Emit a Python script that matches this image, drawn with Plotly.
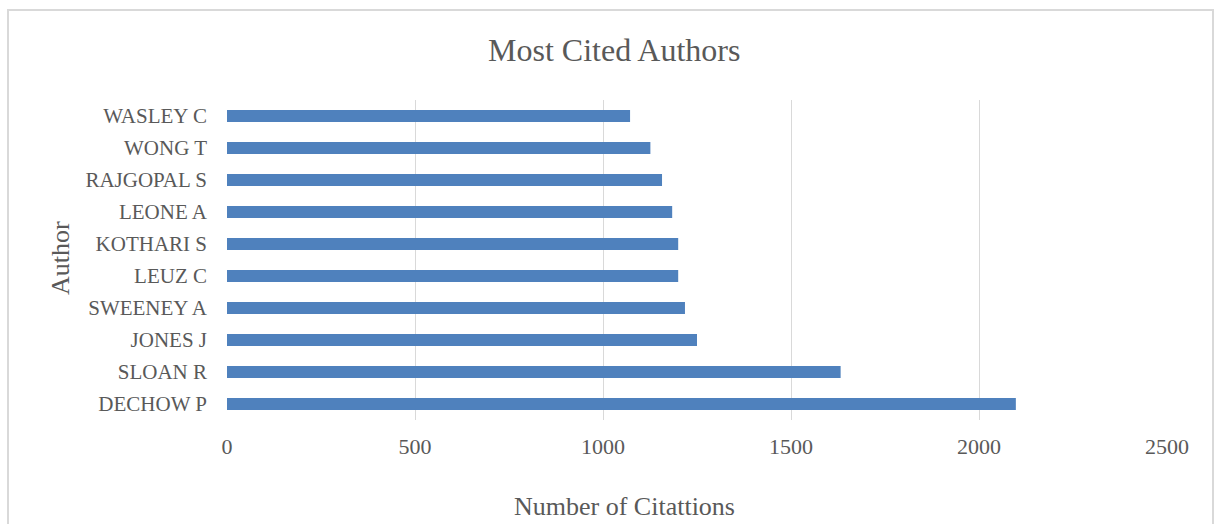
import plotly.graph_objects as go

authors = ["DECHOW P", "SLOAN R", "JONES J", "SWEENEY A", "LEUZ C",
           "KOTHARI S", "LEONE A", "RAJGOPAL S", "WONG T", "WASLEY C"]
citations = [2098, 1632, 1250, 1218, 1200, 1200, 1184, 1157, 1126, 1072]
x_ticks = [0, 500, 1000, 1500, 2000, 2500]

FONT = "Liberation Serif, Times New Roman, serif"
GRAY = "#595959"

fig = go.Figure(go.Bar(
    x=citations, y=authors, orientation="h",
    marker=dict(color="#4f81bd", line=dict(width=0)),
    width=0.38,
))

W, H = 1214, 524
L, R, T, B = 227, W - 1167, 100, H - 420
pw, ph = W - L - R, H - T - B

fig.update_layout(
    width=W, height=H,
    margin=dict(l=L, r=R, t=T, b=B),
    paper_bgcolor="white", plot_bgcolor="white",
    showlegend=False,
    font=dict(family=FONT, color=GRAY),
    xaxis=dict(range=[0, 2500], tickvals=x_ticks, showgrid=True,
               gridcolor="#d9d9d9", gridwidth=1, zeroline=False,
               showline=False, tickfont=dict(size=22, color=GRAY),
               ticklabelstandoff=11, fixedrange=True),
    yaxis=dict(categoryorder="array", categoryarray=authors,
               showgrid=False, zeroline=False, showline=False,
               tickfont=dict(size=21, color=GRAY),
               ticklabelstandoff=19, range=[-0.5, 9.5]),
)

# outer frame
fig.add_shape(type="rect", xref="paper", yref="paper",
              x0=(8 - L) / pw, x1=(1213 - L) / pw,
              y0=(H - B - 540) / ph, y1=(H - B - 10) / ph,
              line=dict(color="#d9d9d9", width=2), fillcolor="rgba(0,0,0,0)",
              layer="below")

fig.add_annotation(text="Most Cited Authors", xref="paper", yref="paper",
                   x=(614 - L) / pw, y=(H - B - 50) / ph, showarrow=False,
                   font=dict(size=32, color=GRAY, family=FONT),
                   xanchor="center", yanchor="middle")
fig.add_annotation(text="Number of Citattions", xref="paper", yref="paper",
                   x=(624 - L) / pw, y=(H - B - 506) / ph, showarrow=False,
                   font=dict(size=26, color=GRAY, family=FONT),
                   xanchor="center", yanchor="middle")
fig.add_annotation(text="Author", xref="paper", yref="paper",
                   x=(60 - L) / pw, y=(H - B - 258) / ph, showarrow=False,
                   textangle=-90,
                   font=dict(size=26, color=GRAY, family=FONT),
                   xanchor="center", yanchor="middle")

fig.write_html("out.html")
